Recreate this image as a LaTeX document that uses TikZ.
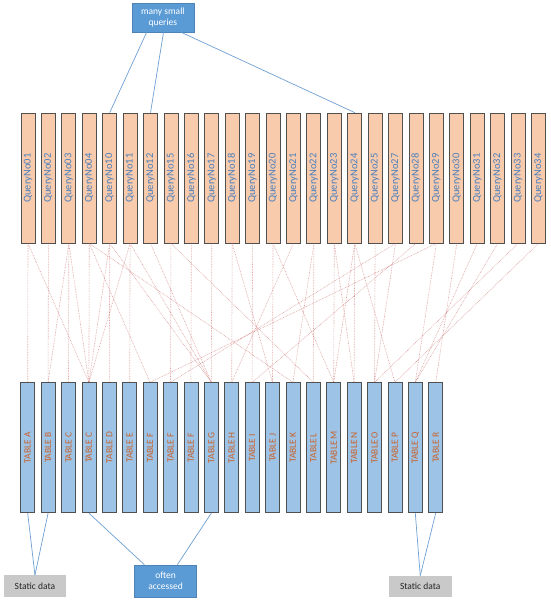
\documentclass[tikz,border=0pt]{standalone}
\usepackage{fontspec}
\setmainfont{Carlito}
\usepackage{graphicx}
\usetikzlibrary{calc}
\definecolor{qfill}{HTML}{F8CBAD}
\definecolor{qtext}{HTML}{4A7EBB}
\definecolor{tfill}{HTML}{9DC3E6}
\definecolor{ttext}{HTML}{C9622A}
\definecolor{bdr}{HTML}{505050}
\definecolor{cblue}{HTML}{5B9BD5}
\definecolor{lblue}{HTML}{6E9FD3}
\definecolor{dotred}{HTML}{C0504D}
\definecolor{sgray}{HTML}{C9C9C9}
\begin{document}
\begin{tikzpicture}[x=1pt,y=-1pt,
 qbox/.style={draw=bdr,line width=0.8pt,fill=qfill,minimum width=14pt,minimum height=130pt,inner sep=0pt,text=qtext,font=\fontsize{10.5}{12}\selectfont},
 tbox/.style={draw=bdr,line width=0.8pt,fill=tfill,minimum width=14pt,minimum height=130pt,inner sep=0pt,text=ttext,font=\fontsize{9.5}{11}\selectfont},
 dotline/.style={draw=dotred,opacity=0.55,line width=0.6pt,dash pattern=on 0.7pt off 0.9pt},
 bline/.style={draw=lblue,line width=0.7pt},
 callout/.style={fill=cblue,draw=cblue!85!black,line width=0.4pt,text=white,align=center,inner sep=0pt,font=\fontsize{9.5}{11}\selectfont},
 sbox/.style={fill=sgray,draw=none,inner sep=0pt,text=black!85,font=\fontsize{9.5}{11}\selectfont}]
\useasboundingbox (0,0) rectangle (551,600);

% query boxes
\foreach \lab [count=\i from 0] in {01,02,03,04,10,11,12,15,16,17,18,19,20,21,22,23,24,25,27,28,29,30,31,32,33,34}
  \node[qbox] (q\i) at ({28+20.42*\i},178) {\rotatebox{90}{QueryNo\lab}};

% table boxes
\foreach \lab [count=\j from 0] in {A,B,C,C,D,E,F,F,F,G,H,I,J,K,L,M,N,O,P,Q,R}
  \node[tbox] (t\j) at ({27.7+20.4*\j},447.7) {\rotatebox{90}{TABLE \lab}};

% callouts
\node[callout,minimum width=62.3pt,minimum height=29pt] (msq) at (162.85,17.8) {many small\\queries};
\node[callout,minimum width=61.9pt,minimum height=32.3pt] (oa) at (165.55,581) {often\\accessed};
\node[sbox,minimum width=62.9pt,minimum height=21.8pt] (sd1) at (34.95,586.3) {Static data};
\node[sbox,minimum width=62.9pt,minimum height=21.3pt] (sd2) at (420.25,586.5) {Static data};

% dotted query-table links
\foreach \a/\b in {0/0,0/3,1/1,2/2,2/1,2/3,3/3,3/6,3/13,4/4,4/3,4/9,5/5,5/3,5/9,6/9,7/7,7/14,8/8,9/9,10/10,10/12,11/11,12/12,12/15,13/10,14/14,14/13,15/15,15/16,16/16,16/15,16/18,17/17,18/7,18/17,19/11,20/6,20/19,21/20,22/19,23/19,24/17,25/18}
  \draw[dotline] (q\a.south) -- (t\b.north);

% blue connectors
\draw[bline] ($(msq.south west)!0.24!(msq.south east)$) -- (q4.north);
\draw[bline] ($(msq.south west)!0.51!(msq.south east)$) -- (q6.north);
\draw[bline] ($(msq.south west)!0.80!(msq.south east)$) -- (q16.north);
\draw[bline] (sd1.north) -- (t0.south);
\draw[bline] (sd1.north) -- (t1.south);
\draw[bline] ($(oa.north west)!0.16!(oa.north east)$) -- (t3.south);
\draw[bline] ($(oa.north west)!0.69!(oa.north east)$) -- (t9.south);
\draw[bline] (sd2.north) -- (t19.south);
\draw[bline] (sd2.north) -- (t20.south);
\end{tikzpicture}
\end{document}
